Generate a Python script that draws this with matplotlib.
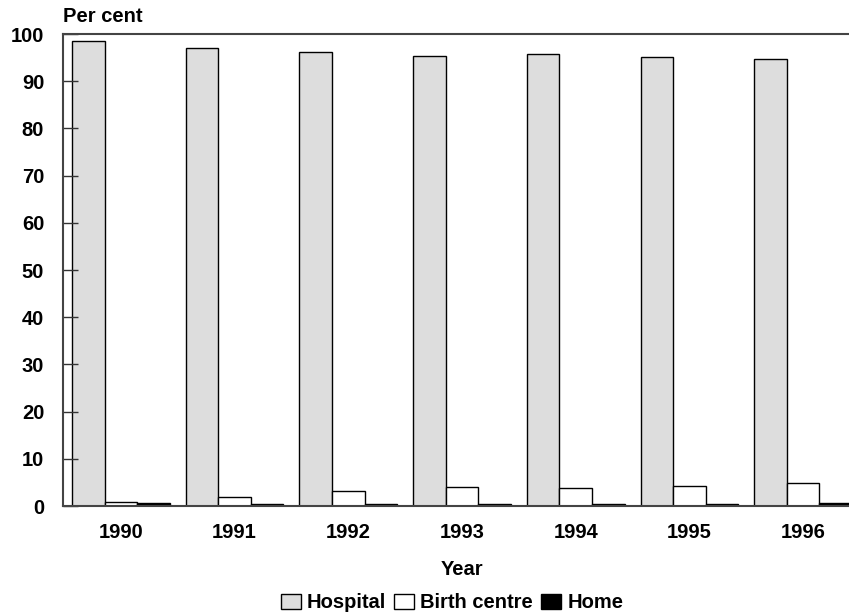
import numpy as np
import matplotlib
matplotlib.use('Agg')
import matplotlib.pyplot as plt

# share of births by place of delivery
years = ['1990', '1991', '1992', '1993', '1994', '1995', '1996']
hospital = [98.5, 97.0, 96.2, 95.4, 95.7, 95.2, 94.6]
birth_centre = [0.9, 2.0, 3.2, 4.0, 3.8, 4.2, 4.8]
home = [0.6, 0.5, 0.4, 0.4, 0.4, 0.4, 0.7]

series = [('Hospital', hospital, '#dddddd'),
          ('Birth centre', birth_centre, 'white'),
          ('Home', home, 'black')]

plt.rcParams['font.family'] = ['Liberation Sans', 'DejaVu Sans']
plt.rcParams['font.weight'] = 'bold'
fs = 14.5

fig = plt.figure(figsize=(8.49, 6.15), dpi=100)
# axes run slightly past the right edge of the figure
ax = fig.add_axes([63/849, 109/615, 798/849, 472/615])

x = np.arange(len(years))
width = 0.286
for i, (name, vals, col) in enumerate(series):
	ax.bar(x + (i - 1) * width, vals, width, color=col, edgecolor='black',
		linewidth=1.0, label=name)

ax.set_xlim(-0.508, len(years) - 1 + 0.508)
ax.set_ylim(0, 100)
ax.set_yticks(np.arange(0, 101, 10))
ax.set_xticks(x)
ax.set_xticklabels(years)

ax.tick_params(axis='y', direction='in', length=11, width=1.0, color='#333333',
	labelsize=fs, pad=13.5)
ax.tick_params(axis='x', length=0, labelsize=fs, pad=12)
for s in ax.spines.values():
	s.set_color('#444444')
	s.set_linewidth(1.5)

ax.set_xlabel('Year', fontsize=fs, fontweight='bold', labelpad=13)
fig.text(63/849, 1 - 17/615, 'Per cent', fontsize=fs, fontweight='bold',
	ha='left', va='center')

fig.legend(loc='center', bbox_to_anchor=(452/849, 1 - 603/615), ncol=3, frameon=False,
	fontsize=fs, handlelength=1.0, handleheight=0.7, handletextpad=0.3,
	columnspacing=0.4, borderaxespad=0)

fig.savefig('out.png', dpi=100)
